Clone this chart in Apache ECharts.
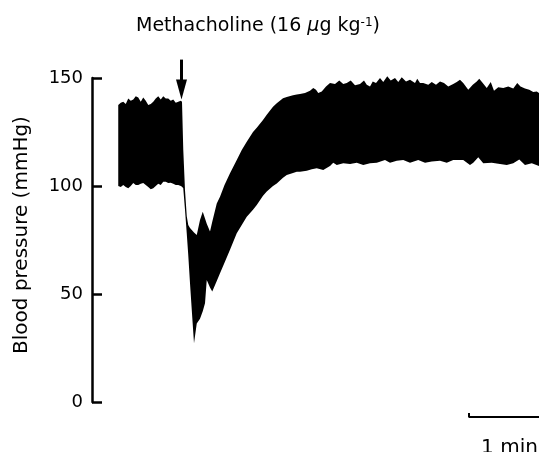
<!DOCTYPE html>
<html>
<head>
<meta charset="utf-8">
<script src="https://cdn.jsdelivr.net/npm/echarts@6/dist/echarts.min.js"></script>
<style>
html, body { margin: 0; padding: 0; background: #fff; }
#chart { width: 539px; height: 452px; }
</style>
</head>
<body>
<div id="chart"></div>
<script>
// time in seconds from the left end of the time axis (1 min = 60 s)
// upper envelope of the pressure trace (mmHg)
var sysTimes = [
    21, 23, 25, 27, 29, 31, 33, 35, 37, 39, 41, 43, 45, 47, 49, 51, 53, 55, 57, 59, 61, 63, 65, 67, 69, 71, 72,
    73, 74.4, 75.8, 77, 78.4, 80, 81.6, 83.8, 86.4, 88.6, 90.4, 91.8, 94.4, 96.2, 99.8, 102.4, 106, 110.4, 115.8, 119.8,
    123.8, 128.8, 131.8, 136.8, 139.8, 144.8, 147.8, 152.8, 155.8, 160.8, 163.8,
    166.4, 170.4, 174.4, 177, 179.2, 181, 183.8, 187.2, 190.4, 194.4, 197.8, 201, 203.8, 207, 210.4, 214.4, 217.6,
    219.8, 222.4, 224.6, 227.2, 230.4, 233, 236.2, 239, 242.4, 245, 247.8, 251.2, 254.4, 258.4, 260.2, 262.4,
    265, 269, 271.8, 275.2, 278.4, 281.6, 285, 289, 291.8, 294.4, 297, 301, 304.6, 307.8, 309.8, 312.6, 315.8,
    319, 321.6, 325, 329, 333, 337, 340.2, 342.8, 346.4, 349.8, 353, 355.8, 357.6
];
var systolic = [
    137.5, 138.5, 139, 138, 140.5, 139.5, 140, 141.5, 141, 139, 141, 139.5, 137.5, 138, 139, 140.5, 141.5, 140, 141.5, 140.5,
    140.5, 139.5, 140, 138.5, 139, 139.5, 139,
    117, 98, 86, 82, 80.5, 79.5, 78.5, 77.3, 84.3, 88.1, 85, 82.5, 78.9, 83.5, 91.9, 95, 100.5, 105.9, 112, 116.7,
    120.5, 125, 127, 130.6, 133, 136.7, 138.3, 140.6, 141.2, 142, 142.4,
    142.6, 143.1, 144.1, 145.4, 144.6, 143.1, 143.8, 146.1, 147.7, 147.2, 148.8, 147.2, 147.7, 148.8, 146.6, 147.2, 148.8,
    146.9, 146.1, 148.4, 147.7, 150, 148.1, 150.8, 148.8, 150, 148.1, 150.3, 148.4, 149.2, 147.7, 149.7, 147.7,
    147.7, 146.9, 148.1, 146.9, 148.4, 147.7, 146.1, 147.2, 148.1, 149.2, 147.7, 144.6, 146.9, 148.4, 149.7, 147.7, 145.4,
    148.1, 144.1, 145.7, 145.4, 146.1, 145.1, 147.7, 146.1, 145.1, 144.6, 143.5, 143.8, 143.1
];
// lower envelope of the pressure trace (mmHg)
var diaTimes = [
    21, 23, 25, 27, 29, 31, 33, 35, 37, 39, 41, 43, 45, 47, 49, 51, 53, 55, 57, 59, 61, 63, 65, 67, 69, 71, 72,
    73, 74.4, 75.8, 77, 78.4, 80, 81.6, 83.8, 86.4, 88.6, 90.4, 91.8, 94.4, 96.2, 99.8, 102.4, 106, 110.4, 115.8, 119.8,
    123.8, 128.8, 131.8, 136.8, 139.8, 144.8, 147.8, 152.8, 155.8, 160.8, 163.8,
    166.4, 171.8, 175.8, 179.8, 185, 190.4, 193, 195.8, 201, 206.4, 211.8, 217, 222.4, 227.8, 234.4, 238.4, 243.8,
    249, 254.4, 261, 266.4, 271.8, 278.4, 283.8, 289, 297, 302.4, 305, 309, 313, 319.8, 326.4, 331.8, 337, 341.8,
    346.4, 351.8, 357.6
];
var diastolic = [
    100, 99.5, 100.5, 99.5, 99, 100, 101.4, 100.5, 100.5, 101, 101.4, 100.5, 99.5, 98.5, 99, 100, 101, 100.5, 102, 102,
    101.4, 101.5, 101, 100.5, 100.5, 100, 99.7,
    99, 89, 78, 68, 55, 41, 27.2, 36.4, 38.5, 42, 45.7, 56.5, 53, 51.1, 56, 59.6, 64.5, 70.5, 78.1, 82,
    85.8, 89, 91.2, 95.5, 97.4, 100, 101.2, 103.8, 105.1, 106, 106.6,
    106.6, 107.1, 107.7, 108.2, 107.4, 109.3, 110.8, 109.7, 110.5, 110.2, 110.8, 109.7, 110.5, 110.8, 112, 110.8, 111.7,
    112, 110.8, 112, 110.8, 111.3, 111.7, 110.8, 112, 112, 109.7, 110.8, 113.3, 110.5, 110.8, 110.2, 109.7, 110.5, 112.3,
    109.7, 110.5, 109.3
];
var injectionTime = 71.6;   // arrow
var arrowTip = 140;
var scaleStart = 301.6;     // 1 min scale bar
var scaleLength = 60;
var scaleLevel = -6.9;

var FONT = '"DejaVu Sans", sans-serif';

var chart = echarts.init(document.getElementById('chart'));

// filled band between the two envelopes
function renderBand(params, api) {
    var pts = [];
    for (var i = 0; i < sysTimes.length; i++) {
        pts.push(api.coord([sysTimes[i], systolic[i]]));
    }
    for (var j = diaTimes.length - 1; j >= 0; j--) {
        pts.push(api.coord([diaTimes[j], diastolic[j]]));
    }
    return {
        type: 'polygon',
        shape: { points: pts },
        style: { fill: '#000' }
    };
}

var option = {
    animation: false,
    grid: { left: 92, right: 0, top: 78, bottom: 50 },
    xAxis: { type: 'value', min: 0, max: 357.6, show: false },
    yAxis: {
        type: 'value',
        min: 0,
        max: 150,
        interval: 50,
        name: 'Blood pressure (mmHg)',
        nameLocation: 'middle',
        nameGap: 60,
        nameTextStyle: { color: '#000', fontSize: 20, fontFamily: FONT, padding: [0, 0, 0, 10] },
        axisLine: { show: true, lineStyle: { color: '#000', width: 2.5 } },
        axisTick: { show: true, inside: true, length: 10, lineStyle: { color: '#000', width: 2.5 } },
        axisLabel: { color: '#000', fontSize: 18, fontFamily: FONT, margin: 9 },
        splitLine: { show: false }
    },
    series: [
        {
            name: 'Blood pressure',
            type: 'custom',
            renderItem: renderBand,
            data: [[sysTimes[0], systolic[0]]]
        },
        {
            name: 'scale',
            type: 'line',
            clip: false,
            symbol: 'none',
            data: [[scaleStart, scaleLevel + 1.8], [scaleStart, scaleLevel], [scaleStart + scaleLength, scaleLevel]],
            lineStyle: { color: '#000', width: 2 }
        }
    ]
};
chart.setOption(option);

var tip = chart.convertToPixel({ gridIndex: 0 }, [injectionTime, arrowTip]);
var bar = chart.convertToPixel({ gridIndex: 0 }, [scaleStart + scaleLength / 2, scaleLevel]);

chart.setOption({
    graphic: [
        {
            type: 'text',
            style: {
                x: 258, y: 26,
                align: 'center', verticalAlign: 'middle',
                text: '{a|Methacholine (16 }{mu|μ}{a|g kg}{sup|-1}{a|)}',
                rich: {
                    a: { fontSize: 19, fontFamily: FONT, fill: '#000', verticalAlign: 'middle' },
                    mu: { fontSize: 19, fontFamily: FONT, fontStyle: 'italic', fill: '#000', verticalAlign: 'middle' },
                    sup: { fontSize: 12, fontFamily: FONT, fill: '#000', verticalAlign: 'top' }
                }
            }
        },
        {
            type: 'line',
            shape: { x1: tip[0], y1: tip[1] - 40, x2: tip[0], y2: tip[1] - 16 },
            style: { stroke: '#000', lineWidth: 3 }
        },
        {
            type: 'polygon',
            shape: { points: [[tip[0] - 5.5, tip[1] - 20], [tip[0] + 5.5, tip[1] - 20], [tip[0], tip[1]]] },
            style: { fill: '#000' }
        },
        {
            type: 'text',
            style: {
                x: bar[0] + 3, y: bar[1] + 31,
                align: 'center', verticalAlign: 'middle',
                text: '1 min',
                font: '20px ' + FONT,
                fill: '#000'
            }
        }
    ]
});
</script>
</body>
</html>
